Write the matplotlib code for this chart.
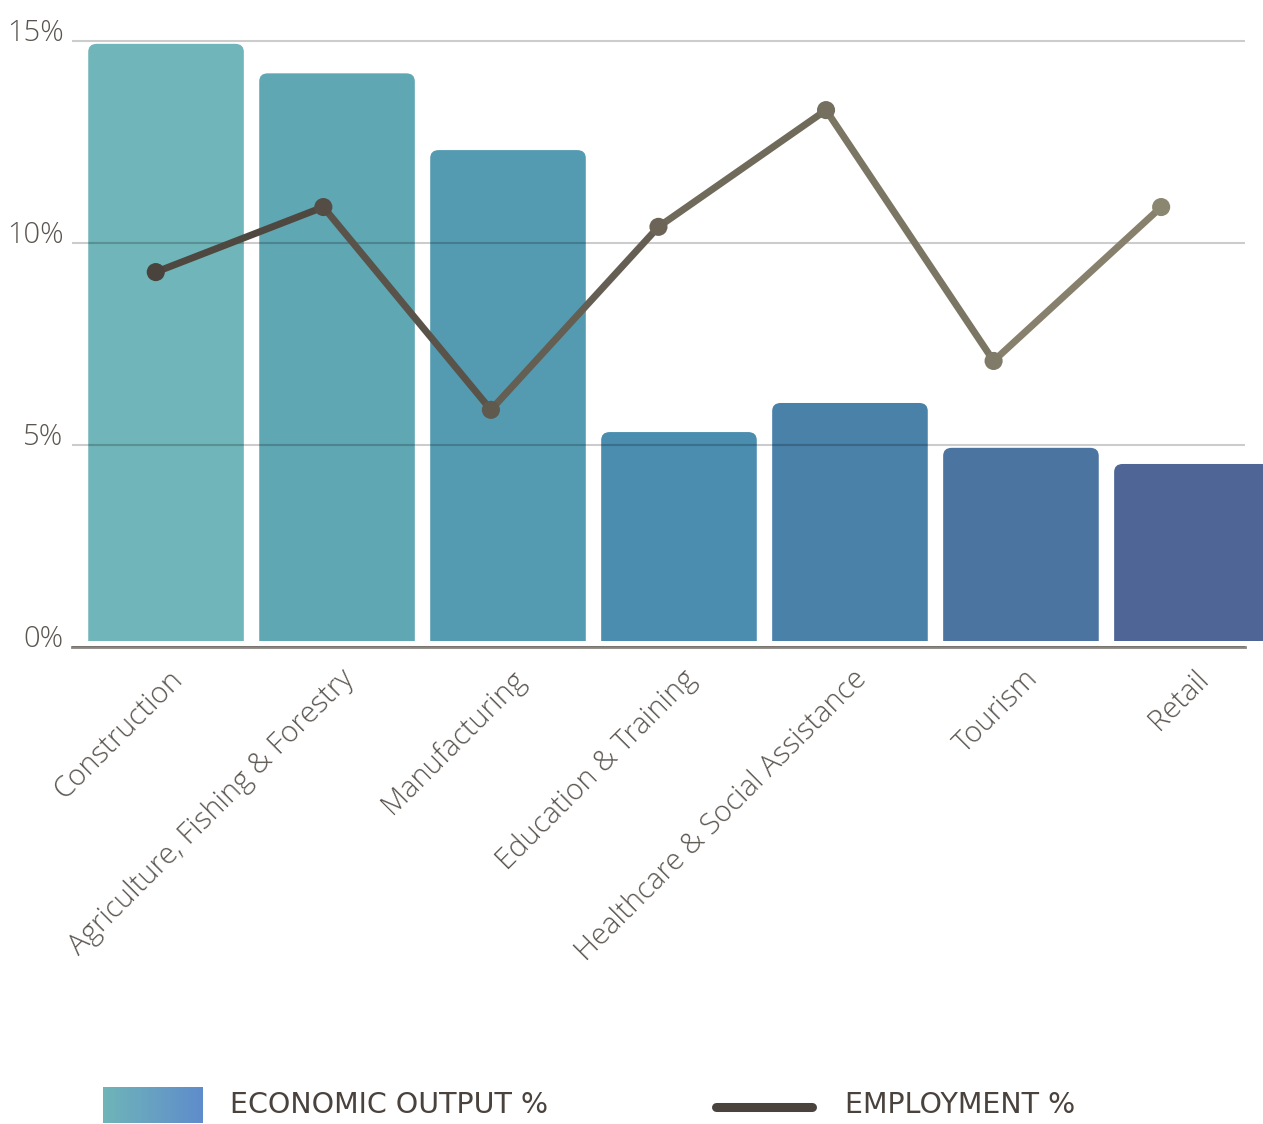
import matplotlib
matplotlib.use("Agg")
import matplotlib.pyplot as plt
import matplotlib.transforms as mtransforms
import numpy as np
from matplotlib.colors import LinearSegmentedColormap
from matplotlib.lines import Line2D
from matplotlib.patches import FancyBboxPatch, Rectangle

# Data
sectors = [
    "Construction",
    "Agriculture, Fishing & Forestry",
    "Manufacturing",
    "Education & Training",
    "Healthcare & Social Assistance",
    "Tourism",
    "Retail",
]
economic_output = [14.93, 14.2, 12.3, 5.32, 6.04, 4.93, 4.53]
employment = [9.28, 10.89, 5.87, 10.40, 13.29, 7.08, 10.89]
y_ticks = [0, 5, 10, 15]
y_tick_labels = ["0%", "5%", "10%", "15%"]

# Styling
bar_colors = ["#70b5b9", "#5fa7b3", "#549bb1", "#4a8dae", "#4a81a9", "#4b74a1", "#4f6596"]
line_cmap = LinearSegmentedColormap.from_list("emp", ["#4a423d", "#8b8670"])
legend_cmap = LinearSegmentedColormap.from_list("out", ["#6fb5b8", "#5f8ccc"])
text_color = "#5b5550"
legend_text_color = "#4a423d"
bar_width = 0.91
bar_gap = 0.15  # small gap between bars and baseline

fig = plt.figure(figsize=(12.63, 11.24), dpi=100)
ax = fig.add_axes([0.057, 0.4244, 0.9287, 0.5427])
ax.set_xlim(-0.55, 6.31)
ax.set_ylim(0, 15.1)

x = np.arange(len(sectors))
bars = ax.bar(x, np.array(economic_output) - bar_gap, bottom=bar_gap,
              width=bar_width, color=bar_colors)

# swap plain bars for ones with rounded top corners only
rx = 0.05
ry = 0.2
for bar, col in zip(bars, bar_colors):
    bx, by, bw, bh = bar.get_x(), bar.get_y(), bar.get_width(), bar.get_height()
    bar.set_visible(False)
    rounded = FancyBboxPatch((bx, by - 2 * ry), bw, bh + 2 * ry,
                             boxstyle=f"round,pad=0,rounding_size={rx}",
                             mutation_aspect=ry / rx, fc=col, ec="none", zorder=1)
    ax.add_patch(rounded)
    rounded.set_clip_path(Rectangle((bx, by), bw, bh + 1, transform=ax.transData))

ax.set_yticks(y_ticks)
ax.set_yticklabels(y_tick_labels)
ax.set_xticks(x)
ax.set_xticklabels(sectors, rotation=45, ha="right", va="center",
                   rotation_mode="anchor")
ax.tick_params(axis="both", length=0, labelcolor=text_color, labelsize=21)
ax.tick_params(axis="y", pad=6)
ax.tick_params(axis="x", pad=20)
shift = mtransforms.ScaledTranslation(9 / 72, 0, fig.dpi_scale_trans)
for lbl in ax.get_xticklabels():
    lbl.set_transform(lbl.get_transform() + shift)
for lbl in ax.get_yticklabels():
    lbl.set_va("baseline")
for lbl in ax.get_xticklabels() + ax.get_yticklabels():
    lbl.set_fontfamily("Open Sans")
    lbl.set_fontweight("light")

ax.set_axisbelow(False)
ax.grid(axis="y", color="black", alpha=0.2, lw=1.5)
ax.grid(axis="x", visible=False)
for side in ["top", "right", "left"]:
    ax.spines[side].set_visible(False)
ax.spines["bottom"].set_color("#8a8580")
ax.spines["bottom"].set_linewidth(2)

# employment line sits on its own evenly spaced category axis
ax2 = ax.twiny()
ax2.set_xlim(-0.5, len(sectors) - 0.5)
ax2.axis("off")
n = len(employment)
for i in range(n - 1):
    ax2.plot(x[i:i + 2], employment[i:i + 2], color=line_cmap((i + 0.5) / (n - 1)),
             lw=5, solid_capstyle="round", zorder=3)
ax2.scatter(x, employment, s=170, c=[line_cmap(i / (n - 1)) for i in range(n)],
            zorder=4, edgecolors="none")

# legend
lax = fig.add_axes([0.0816, 0.0009, 0.0784, 0.032])
lax.imshow(np.linspace(0, 1, 256)[None, :], cmap=legend_cmap, aspect="auto")
lax.axis("off")
fig.text(0.182, 0.0165, "ECONOMIC OUTPUT %", fontsize=20.5, color=legend_text_color,
         family="DejaVu Sans", va="center")
fig.add_artist(Line2D([0.567, 0.643], [0.0151, 0.0151], lw=6.5, color="#4a423d",
                      solid_capstyle="round"))
fig.text(0.669, 0.0165, "EMPLOYMENT %", fontsize=20.5, color=legend_text_color,
         family="DejaVu Sans", va="center")

fig.savefig("out.png", dpi=100)
